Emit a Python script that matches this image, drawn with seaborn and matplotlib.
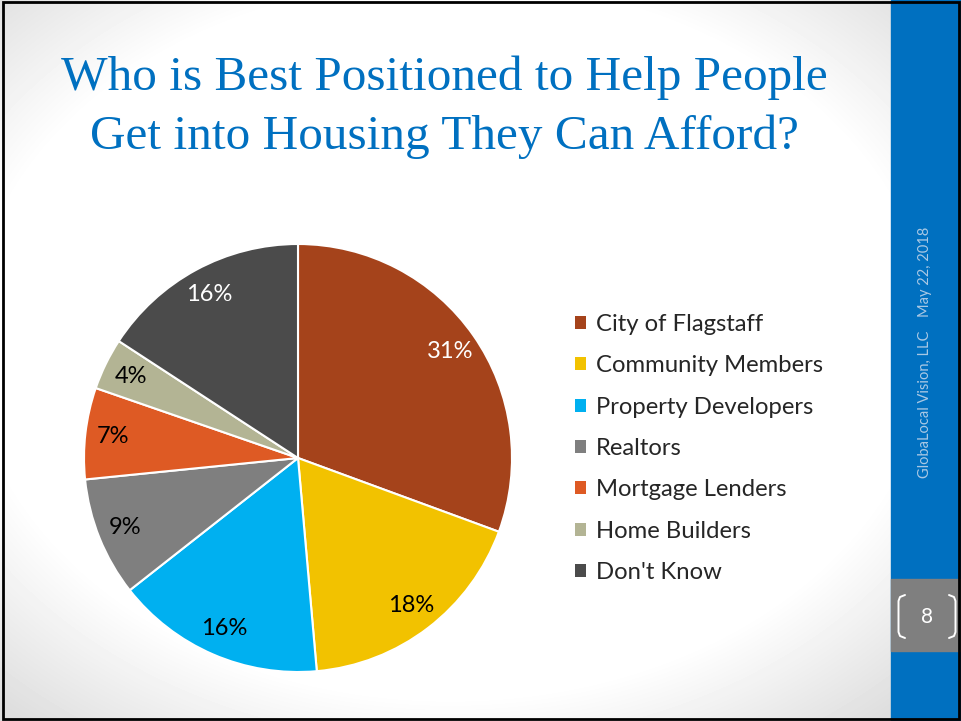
"""Pie chart slide: who is best positioned to help people get into affordable housing."""

import matplotlib
matplotlib.use("Agg")
import numpy as np
import matplotlib.pyplot as plt
from matplotlib.patches import Patch, Rectangle
import seaborn as sns

# Survey results (share of respondents, %)
categories = [
    "City of Flagstaff",
    "Community Members",
    "Property Developers",
    "Realtors",
    "Mortgage Lenders",
    "Home Builders",
    "Don't Know",
]
shares = [30.6, 18.0, 15.8, 9.0, 6.9, 3.9, 15.8]
slice_colors = ["#A5431B", "#F2C200", "#00B0F0", "#7F7F7F", "#DE5A24", "#B3B494", "#4B4B4B"]
label_colors = ["white", "black", "black", "black", "black", "black", "white"]

title_lines = ["Who is Best Positioned to Help People", "Get into Housing They Can Afford?"]
footer_org = "GlobaLocal Vision, LLC"
footer_date = "May 22, 2018"
slide_number = "8"

W, H = 961, 721
BLUE = "#0070C0"

sns.set_theme(style="white")
plt.rcParams["font.family"] = ["Lato", "DejaVu Sans"]

fig = plt.figure(figsize=(W / 100, H / 100), dpi=100)

# slide background, in pixel coordinates
bg = fig.add_axes([0, 0, 1, 1])
bg.set_xlim(0, W)
bg.set_ylim(H, 0)
bg.axis("off")
yy, xx = np.mgrid[0:H, 0:W]
r = np.sqrt(((xx - 450) / 560) ** 2 + ((yy - 340) / 420) ** 2)
shade = 1 - 0.13 * np.clip((r - 0.85) / 0.33, 0, 1)
bg.imshow(shade, cmap="gray", vmin=0, vmax=1, extent=(0, W, H, 0),
          aspect="auto", zorder=0, interpolation="bilinear")

# right side bar with footer and slide number
bg.add_patch(Rectangle((891, 0), W - 891, H, color=BLUE, zorder=2))
bg.add_patch(Rectangle((891, 579), W - 891, 72, color="#7F7F7F", zorder=3))
bg.plot([905, 900, 898.5, 898.5, 900, 905], [595, 597, 601, 632, 636, 638],
        color="white", lw=1.4, zorder=4, solid_joinstyle="round")
bg.plot([949, 954, 955.5, 955.5, 954, 949], [595, 597, 601, 632, 636, 638],
        color="white", lw=1.4, zorder=4, solid_joinstyle="round")
bg.text(927, 617, slide_number, color="white", fontsize=15,
        ha="center", va="center", zorder=4)
bg.text(925, 404, footer_org, color="#A9C8E4", fontsize=10.5, rotation=90,
        ha="center", va="center", zorder=4)
bg.text(925, 272, footer_date, color="#A9C8E4", fontsize=10.5, rotation=90,
        ha="center", va="center", zorder=4)
bg.add_patch(Rectangle((3, 2), W - 5, H - 4, fill=False, ec="black", lw=2, zorder=6))

# title
for line, y in zip(title_lines, [78, 137]):
    bg.text(444, y, line, color=BLUE, fontsize=35.5, family="Liberation Serif",
            ha="center", va="center", zorder=4)

# pie
R, cx, cy, pad = 214, 298, 458, 1.05
ax = fig.add_axes([(cx - R * pad) / W, (H - cy - R * pad) / H,
                   2 * R * pad / W, 2 * R * pad / H])
wedges, texts, autotexts = ax.pie(
    shares,
    colors=slice_colors,
    startangle=90,
    counterclock=False,
    autopct=lambda p: f"{p:.0f}%",
    pctdistance=0.87,
    wedgeprops=dict(edgecolor="white", linewidth=1.5),
    textprops=dict(fontsize=17),
)
for t, c in zip(autotexts, label_colors):
    t.set_color(c)
ax.set_xlim(-pad, pad)
ax.set_ylim(-pad, pad)

# legend
handles = [Patch(facecolor=c, edgecolor="none") for c in slice_colors]
fig.legend(handles, categories, loc="upper left",
           bbox_to_anchor=(575 / W, 1 - 314 / H), frameon=False,
           fontsize=17.2, handlelength=0.46, handleheight=0.46,
           handletextpad=0.4, labelspacing=0.85, borderpad=0, borderaxespad=0)

fig.savefig("out.png", dpi=100)
